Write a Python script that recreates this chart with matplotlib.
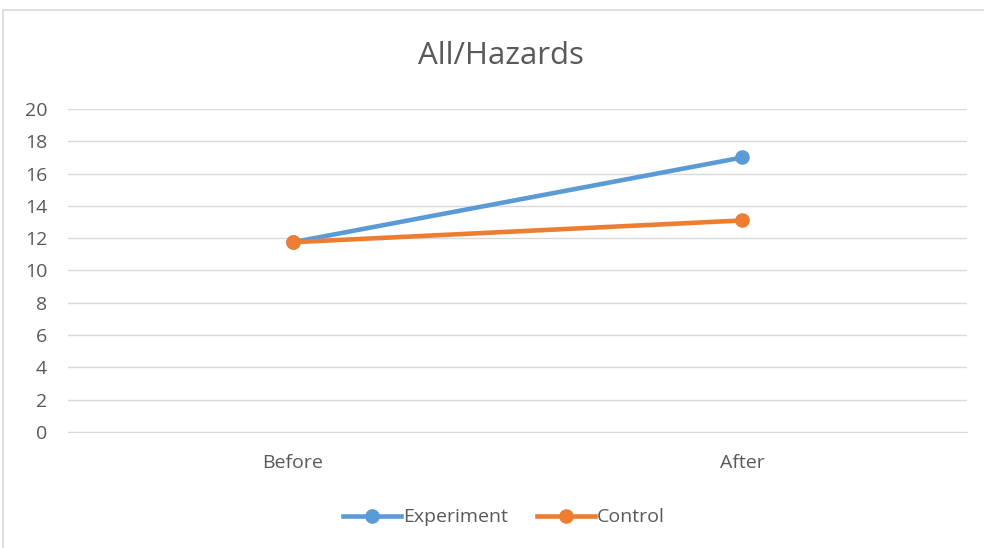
import matplotlib.pyplot as plt
from matplotlib.patches import Rectangle

categories = ['Before', 'After']
experiment = [11.75, 17.0]
control = [11.75, 13.1]
yticks = [0, 2, 4, 6, 8, 10, 12, 14, 16, 18, 20]

plt.rcParams['font.family'] = ['Open Sans', 'DejaVu Sans']

fig = plt.figure(figsize=(9.84, 5.48), dpi=100)
ax = fig.add_axes([0.069, 0.2117, 0.914, 0.5894])

# chart border like the Excel chart area
fig.patches.append(Rectangle((0.003, -0.01), 1.1, 0.992, transform=fig.transFigure,
                             fill=False, edgecolor='#D9D9D9', linewidth=1.2))

x = range(len(categories))
ax.plot(x, experiment, color='#5B9BD5', linewidth=3.3, marker='o', markersize=9.5,
        label='Experiment', zorder=3)
ax.plot(x, control, color='#ED7D31', linewidth=3.3, marker='o', markersize=9.5,
        label='Control', zorder=4)

ax.set_xlim(-0.5, 1.5)
ax.set_ylim(0, 20)
ax.set_yticks(yticks)
ax.set_xticks(list(x))
ax.set_xticklabels(categories)
ax.grid(axis='y', color='#D9D9D9', linewidth=1)
ax.set_axisbelow(True)
for s in ax.spines.values():
    s.set_visible(False)
ax.spines['bottom'].set_visible(True)
ax.spines['bottom'].set_color('#D9D9D9')
ax.tick_params(length=0, labelsize=14, colors='#595959')
ax.tick_params(axis='y', pad=15)
ax.tick_params(axis='x', pad=16)

fig.text(0.509, 0.897, 'All/Hazards', ha='center', va='center', fontsize=22.5, color='#595959')

fig.legend(loc='center', bbox_to_anchor=(0.512, 0.056), ncol=2, frameon=False,
           fontsize=14, handlelength=3.0, columnspacing=1.5, handletextpad=0.1,
           labelcolor='#595959')

fig.savefig('out.png', dpi=100)
